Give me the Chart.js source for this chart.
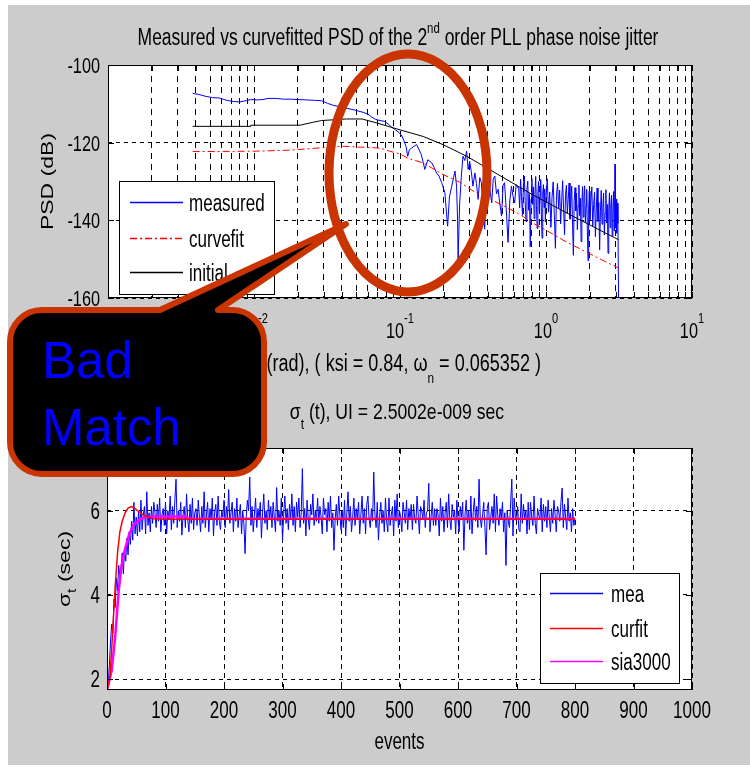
<!DOCTYPE html>
<html>
<head>
<meta charset="utf-8">
<script src="https://cdn.jsdelivr.net/npm/chart.js@4.4.1/dist/chart.umd.min.js"></script>
<style>
  body { margin: 0; background: #fff; }
  #page { position: relative; width: 750px; height: 770px; overflow: hidden; }
  #bg { position: absolute; left: 8px; top: 5px; width: 742px; height: 760px; background: #cccccc; }
  canvas, svg { position: absolute; left: 0; top: 0; }
</style>
</head>
<body>
<div id="page">
  <div id="bg"></div>
  <canvas id="psd" width="750" height="770"></canvas>
  <canvas id="sigma" width="750" height="770"></canvas>
  <svg width="750" height="770" viewBox="0 0 750 770">
    <ellipse cx="408" cy="173" rx="79" ry="119" fill="none" stroke="#c93400" stroke-width="9"/>
    <path d="M 42 310 L 160 310 L 346 224 L 218 310 L 232 310 A 32 32 0 0 1 264 342 L 264 442 A 32 32 0 0 1 232 474 L 42 474 A 32 32 0 0 1 10 442 L 10 342 A 32 32 0 0 1 42 310 Z"
          fill="#000" stroke="#c93400" stroke-width="6" stroke-linejoin="round"/>
    <text x="42" y="378" font-family="Liberation Sans, Arial, sans-serif" font-size="51" fill="#0000ff">Bad</text>
    <text x="42" y="445" font-family="Liberation Sans, Arial, sans-serif" font-size="51" fill="#0000ff">Match</text>
  </svg>
</div>
<script>
const FONT = '"Liberation Sans", Arial, Helvetica, sans-serif';
const SQ = 0.74; // the matlab figure text is squeezed sideways

// ---- top plot: PSD ----
const psdDecades = [0.001, 0.01, 0.1, 1, 10];
const psdExponents = ['-3', '-2', '-1', '0', '1'];
const psdMinor = [2, 3, 4, 5, 6, 7, 8, 9];
const psdYTicks = [-100, -120, -140, -160];

const psdW = [
  0.0038, 0.0042, 0.0047, 0.0052, 0.0058, 0.0065, 0.0072, 0.0080, 0.0088, 0.0095,
  0.0105, 0.0115, 0.0125, 0.0140, 0.0160, 0.0180, 0.0200, 0.0230, 0.0260, 0.0290,
  0.0320, 0.0350, 0.0390, 0.0440, 0.0500, 0.0560, 0.0600, 0.0640, 0.0680, 0.0730,
  0.0780, 0.0830, 0.0870, 0.0920, 0.0970, 0.1020, 0.1060,
  0.110, 0.113, 0.116, 0.120, 0.125, 0.130, 0.135, 0.140, 0.148, 0.155,
  0.165, 0.172, 0.178, 0.185, 0.193, 0.203, 0.207, 0.212, 0.218, 0.225,
  0.238, 0.244, 0.248, 0.250, 0.256, 0.263, 0.270, 0.278, 0.286, 0.293,
  0.300, 0.308, 0.316, 0.326, 0.334, 0.343, 0.352, 0.361, 0.370, 0.380,
  0.390, 0.400, 0.412, 0.425, 0.435, 0.446, 0.458, 0.470, 0.483, 0.496,
  0.508, 0.520, 0.535, 0.550, 0.565, 0.580, 0.595, 0.610, 0.625, 0.640,
  0.65, 0.66, 0.67, 0.68, 0.69, 0.70, 0.71, 0.72, 0.73, 0.74,
  0.75, 0.76, 0.77, 0.78, 0.79, 0.80, 0.81, 0.82, 0.83, 0.84,
  0.85, 0.86, 0.87, 0.88, 0.89, 0.90, 0.91, 0.92, 0.93, 0.94,
  0.95, 0.96, 0.97, 0.98, 0.99, 1.00, 1.02, 1.04, 1.06, 1.08,
  1.10, 1.12, 1.14, 1.16, 1.18, 1.20, 1.22, 1.24, 1.26, 1.28,
  1.30, 1.32, 1.34, 1.36, 1.38, 1.40, 1.42, 1.44, 1.46, 1.48,
  1.50, 1.52, 1.54, 1.56, 1.58, 1.60, 1.62, 1.64, 1.66, 1.68,
  1.70, 1.72, 1.74, 1.76, 1.78, 1.80, 1.82, 1.84, 1.86, 1.88,
  1.90, 1.92, 1.94, 1.96, 1.98, 2.00, 2.03, 2.06, 2.09, 2.12,
  2.15, 2.18, 2.21, 2.24, 2.27, 2.30, 2.33, 2.36, 2.39, 2.42,
  2.45, 2.48, 2.51, 2.54, 2.57, 2.60, 2.63, 2.66, 2.69, 2.72,
  2.75, 2.78, 2.81, 2.84, 2.87, 2.90, 2.93, 2.95, 2.97, 2.99,
  3.02, 3.05, 3.08, 3.11, 3.14
];
const psdMeasured = [
  -107.3, -107.6, -108.1, -108.4, -108.5, -109.1, -109.4, -109.5, -109.2, -108.9,
  -109.0, -108.9, -108.6, -108.6, -108.8, -108.8, -108.9, -109.0, -109.1, -109.2,
  -109.9, -110.4, -110.8, -111.2, -111.7, -112.2, -112.6, -113.4, -114.0, -114.3,
  -114.5, -115.2, -115.9, -116.6, -117.2, -118.0, -119.3,
  -121.0, -123.5, -121.8, -121.4, -120.9, -120.5, -121.8, -123.1, -126.9, -124.4,
  -125.2, -126.5, -127.8, -128.6, -130.3, -132.9, -137.0, -141.5, -134.0, -131.6,
  -127.3, -131.2, -140.0, -150.0, -136.0, -128.6, -123.5, -124.6, -122.2, -126.9,
  -124.8, -127.5, -131.2, -127.8, -130.5, -134.6, -129.0, -130.3, -136.5, -142.3,
  -133.0, -129.5, -131.8, -135.5, -129.4, -128.6, -133.2, -132.0, -135.8, -138.9,
  -131.0, -130.3, -137.6, -145.7, -135.0, -131.2, -133.9, -135.5, -130.8, -131.6,
  -131.6, -136.8, -129.4, -133.9, -138.7, -131.2, -128.6, -135.1, -140.3, -132.0,
  -129.9, -137.4, -133.1, -146.8, -134.5, -129.2, -135.9, -131.4, -139.6, -133.3,
  -128.7, -136.2, -142.1, -132.6, -130.0, -137.5, -133.8, -129.5, -138.9, -144.6,
  -133.0, -130.8, -136.7, -131.9, -140.4, -134.2, -129.3, -137.9, -132.7, -141.8,
  -134.0, -130.1, -138.5, -147.2, -133.6, -130.5, -136.8, -132.2, -140.9, -135.1,
  -129.8, -137.3, -143.7, -133.4, -131.0, -138.2, -134.6, -130.4, -139.7, -135.5,
  -131.2, -141.3, -149.0, -134.8, -131.6, -137.6, -133.0, -142.4, -136.1, -130.9,
  -138.8, -134.3, -145.5, -135.7, -131.3, -139.2, -133.9, -131.1, -140.6, -136.4,
  -132.0, -143.0, -150.4, -136.9, -132.5, -139.8, -134.7, -131.4, -141.5, -136.0,
  -132.8, -144.2, -137.1, -131.7, -140.3, -135.4, -147.6, -137.8, -132.3, -141.0,
  -136.6, -133.0, -143.8, -138.2, -132.1, -140.7, -135.9, -148.5, -137.4, -132.9,
  -141.9, -136.3, -133.5, -144.1, -138.0, -132.6, -142.7, -136.8, -125.5, -142.0,
  -134.5, -143.3, -135.6, -140.8, -160.0
];

const initW = [0.0038, 0.0094, 0.0095, 0.0207, 0.025, 0.029, 0.043, 0.055, 0.069, 0.1, 0.144, 0.197, 0.286, 0.41, 0.81, 1.52, 3.14];
const psdInitial = [-115.8, -115.8, -115.5, -115.5, -114.8, -114.3, -113.9, -113.9, -114.9, -116.7, -118.4, -120.5, -123.5, -126.9, -133.4, -138.9, -145.0];

const fitW = [0.0038, 0.01, 0.018, 0.025, 0.04, 0.073, 0.085, 0.1, 0.113, 0.144, 0.197, 0.26, 0.33, 0.43, 0.63, 0.84, 1.03, 1.35, 1.7, 2.3, 3.14];
const psdFit = [-122.3, -122.2, -121.9, -121.5, -120.9, -121.4, -122.2, -122.9, -124.0, -125.2, -128.2, -130.3, -132.9, -134.8, -138.0, -141.0, -142.8, -145.4, -147.3, -149.8, -152.3];

// ---- bottom plot: sigma_t vs events ----
const eventTicks = [0, 100, 200, 300, 400, 500, 600, 700, 800, 900, 1000];
const sigmaYTicks = [2, 4, 6];
const meaStep = 2; // one value every 2 events
const meaSigma = [
  2.75, 1.8, 2.3, 2.9, 3.3, 3.1, 3.9, 3.7, 4.4, 4.1, 4.7, 4.45, 4.6, 5.0, 4.5, 5.1, 4.8, 5.35, 4.95, 5.5,
  5.2, 5.75, 5.3, 6.2, 5.45, 5.85, 5.4, 6.0, 5.5, 6.25, 5.55, 5.9, 6.1, 5.45, 6.45, 5.65, 5.95, 5.5, 6.1, 5.7, 6.2,
  5.95, 5.6, 6.15, 5.75, 6.3, 5.5, 5.9, 6.05, 5.65, 6.2, 5.45, 6.0, 5.8, 6.35, 5.55, 6.1, 5.7, 6.25, 6.75, 5.6,
  6.0, 5.75, 6.2, 5.42, 5.9, 6.1, 5.6, 6.4, 5.8, 5.5, 6.15, 5.7, 6.3, 5.55, 5.95, 6.05, 5.65, 6.25, 5.85, 5.5,
  6.1, 5.7, 6.45, 5.6, 5.9, 6.2, 5.5, 6.05, 5.8, 6.3, 5.4, 5.95, 6.15, 5.65, 6.35, 5.75, 5.55, 6.0, 5.85, 6.25,
  5.6, 6.1, 5.8, 6.5, 5.7, 5.95, 6.2, 5.5, 6.05, 5.75, 6.3, 5.6, 5.9, 6.15, 5.45, 6.0, 5.7, 4.98, 5.85, 6.25,
  6.0, 6.8, 5.65, 6.1, 5.5, 5.9, 6.3, 5.6, 6.05, 5.8, 6.2, 5.35, 5.95, 6.4, 5.7, 6.0, 5.55, 6.25, 5.8, 6.1,
  5.6, 6.2, 5.85, 5.5, 6.55, 5.75, 6.0, 5.65, 6.3, 5.3, 5.9, 6.35, 5.7, 6.05, 5.55, 6.15, 5.8, 6.4, 5.65, 6.1,
  5.5, 6.2, 5.85, 6.3, 5.6, 5.95, 7.0, 5.7, 6.05, 5.4, 6.25, 5.8, 5.55, 6.15, 5.9, 6.4, 5.65, 6.0, 5.75, 6.3,
  5.7, 6.1, 5.85, 5.45, 6.3, 5.9, 6.05, 5.5, 6.2, 5.75, 6.35, 5.6, 5.95, 5.06, 5.8, 6.15, 5.65, 6.35, 5.9, 5.55,
  6.0, 5.6, 6.25, 5.4, 5.95, 6.45, 5.75, 6.1, 5.5, 5.85, 6.3, 5.65, 6.05, 5.8, 6.2, 5.45, 5.9, 6.35, 5.7, 6.05,
  5.45, 6.15, 6.35, 5.8, 5.6, 6.05, 5.75, 6.92, 5.9, 5.6, 6.2, 5.3, 5.85, 6.2, 5.7, 6.0, 5.5, 6.3, 5.75, 5.5,
  6.3, 5.65, 5.9, 6.1, 5.4, 6.25, 5.75, 6.4, 5.6, 6.0, 5.85, 5.5, 6.2, 5.95, 5.7, 6.25, 5.55, 6.05, 5.8, 6.15,
  5.55, 6.15, 5.8, 5.7, 6.35, 5.9, 5.45, 6.1, 6.0, 5.8, 6.25, 5.6, 5.95, 6.0, 6.65, 5.5, 5.85, 6.2, 5.65, 6.05,
  5.65, 6.05, 5.9, 5.4, 6.3, 5.75, 6.1, 5.5, 5.95, 6.2, 5.6, 6.4, 5.8, 5.55, 6.15, 5.85, 6.0, 5.45, 6.25, 5.8,
  5.5, 6.1, 5.85, 6.2, 5.06, 5.9, 6.25, 5.7, 6.0, 5.55, 6.35, 5.45, 5.95, 6.3, 5.75, 6.1, 5.6, 6.75, 5.85, 5.6,
  5.9, 6.2, 5.6, 4.95, 6.05, 6.2, 5.55, 5.85, 6.1, 5.7, 6.4, 5.5, 6.35, 5.9, 5.65, 6.05, 5.8, 6.2, 5.5, 5.95,
  4.7, 6.0, 5.75, 5.6, 6.2, 6.75, 5.4, 6.3, 5.85, 5.75, 6.1, 5.55, 5.5, 6.4, 5.7, 6.15, 5.8, 6.0, 5.45, 6.2,
  5.55, 6.2, 5.85, 5.65, 6.35, 5.7, 5.45, 6.05, 5.9, 5.8, 6.3, 5.5, 6.15, 5.75, 6.1, 5.6, 6.25, 5.85, 5.5, 6.05,
  5.7, 6.25, 5.9, 5.5, 6.1, 6.0, 5.75, 6.2, 6.54, 5.6, 6.15, 5.85, 5.55, 6.3, 5.75, 5.95, 5.5, 6.05, 5.65, 5.8
];
const curfitEvents = [0, 5, 10, 14, 18, 22, 26, 31, 36, 42, 48, 55, 62, 70, 80, 100, 800];
const curfitSigma = [1.75, 2.0, 3.2, 4.2, 5.0, 5.5, 5.75, 5.95, 6.06, 6.1, 6.05, 5.97, 5.9, 5.85, 5.81, 5.8, 5.8];
const siaEvents = [0, 8, 14, 20, 25, 31, 38, 45, 55, 62, 75, 135, 140, 800];
const siaSigma = [1.74, 2.2, 3.0, 4.1, 4.7, 5.1, 5.45, 5.66, 5.78, 5.83, 5.86, 5.86, 5.81, 5.81];

// ---- drawing helpers ----
function drawRich(ctx, parts, x, y, align, sx) {
  if (sx === undefined) sx = SQ;
  let w = 0;
  parts.forEach(p => {
    ctx.font = p.size + 'px ' + FONT;
    p.w = ctx.measureText(p.t).width * sx;
    w += p.w;
  });
  let cx = align === 'center' ? x - w / 2 : align === 'right' ? x - w : x;
  ctx.textAlign = 'left';
  ctx.textBaseline = 'alphabetic';
  parts.forEach(p => {
    ctx.save();
    ctx.font = p.size + 'px ' + FONT;
    ctx.translate(cx, y + (p.dy || 0));
    ctx.scale(sx, 1);
    ctx.fillText(p.t, 0, 0);
    ctx.restore();
    cx += p.w;
  });
}

function drawRotated(ctx, parts, x, y) {
  ctx.save();
  ctx.translate(x, y);
  ctx.rotate(-Math.PI / 2);
  ctx.scale(1, SQ);
  drawRich(ctx, parts, 0, 0, 'center', 1);
  ctx.restore();
}

function frameAndTicks(chart, len) {
  const { ctx, chartArea: a, scales: { x, y } } = chart;
  ctx.save();
  ctx.strokeStyle = '#000';
  ctx.lineWidth = 1;
  ctx.beginPath();
  x.ticks.forEach(t => {
    const px = Math.round(x.getPixelForValue(t.value)) + 0.5;
    ctx.moveTo(px, a.bottom); ctx.lineTo(px, a.bottom - len);
    ctx.moveTo(px, a.top); ctx.lineTo(px, a.top + len);
  });
  y.ticks.forEach(t => {
    const py = Math.round(y.getPixelForValue(t.value)) + 0.5;
    ctx.moveTo(a.left, py); ctx.lineTo(a.left + len, py);
    ctx.moveTo(a.right, py); ctx.lineTo(a.right - len, py);
  });
  ctx.stroke();
  ctx.strokeRect(a.left + 0.5, a.top + 0.5, a.right - a.left - 1, a.bottom - a.top - 1);
  ctx.restore();
}

function drawLegend(chart, box) {
  const ctx = chart.ctx;
  ctx.save();
  ctx.fillStyle = '#fff';
  ctx.fillRect(box.x, box.y, box.w, box.h);
  ctx.strokeStyle = '#000';
  ctx.lineWidth = 1;
  ctx.strokeRect(box.x + 0.5, box.y + 0.5, box.w, box.h);
  chart.data.datasets.forEach((ds, i) => {
    const ly = box.rows[i] + 0.5;
    ctx.strokeStyle = ds.borderColor;
    ctx.lineWidth = 1.5;
    ctx.setLineDash(ds.borderDash || []);
    ctx.beginPath();
    ctx.moveTo(box.lineX0, ly);
    ctx.lineTo(box.lineX1, ly);
    ctx.stroke();
    ctx.setLineDash([]);
    ctx.fillStyle = '#000';
    drawRich(ctx, [{ t: ds.label, size: 23 }], box.textX, box.rows[i] + 9, 'left');
  });
  ctx.restore();
}

const whiteArea = {
  id: 'whiteArea',
  beforeDraw(chart) {
    const { ctx, chartArea: a } = chart;
    ctx.save();
    ctx.fillStyle = '#fff';
    ctx.fillRect(a.left, a.top, a.right - a.left, a.bottom - a.top);
    ctx.restore();
  }
};

function gridOpts(dash) {
  return {
    grid: { color: '#000', lineWidth: 1, drawTicks: false },
    border: { display: false, dash: dash },
    ticks: { display: false }
  };
}

const psdTickValues = [];
psdDecades.forEach((d, i) => {
  psdTickValues.push(d);
  if (i < psdDecades.length - 1) psdMinor.forEach(m => psdTickValues.push(d * m));
});

// ---- top chart ----
new Chart(document.getElementById('psd'), {
  type: 'line',
  data: {
    datasets: [
      { label: 'measured', data: psdW.map((w, i) => ({ x: w, y: psdMeasured[i] })),
        borderColor: '#0000ff', borderWidth: 1, order: 2 },
      { label: 'curvefit', data: fitW.map((w, i) => ({ x: w, y: psdFit[i] })),
        borderColor: '#ff0000', borderWidth: 1, borderDash: [7, 3, 2, 3], order: 1 },
      { label: 'initial', data: initW.map((w, i) => ({ x: w, y: psdInitial[i] })),
        borderColor: '#000000', borderWidth: 1, order: 0 }
    ]
  },
  options: {
    responsive: false,
    animation: false,
    events: [],
    devicePixelRatio: 1,
    layout: { padding: { left: 108, right: 58, top: 65, bottom: 472 } },
    elements: { point: { radius: 0 }, line: { tension: 0 } },
    plugins: { legend: { display: false }, tooltip: { enabled: false } },
    scales: {
      x: Object.assign({
        type: 'logarithmic', min: 0.001, max: 10,
        afterBuildTicks: s => { s.ticks = psdTickValues.map(v => ({ value: v })); },
        afterFit: s => { s.height = 0; }
      }, gridOpts([6, 5])),
      y: Object.assign({
        type: 'linear', min: -160, max: -100,
        afterBuildTicks: s => { s.ticks = psdYTicks.map(v => ({ value: v })); },
        afterFit: s => { s.width = 0; }
      }, gridOpts([4, 4]))
    }
  },
  plugins: [whiteArea, {
    id: 'psdDecor',
    afterDatasetsDraw(chart) {
      frameAndTicks(chart, 6);
      drawLegend(chart, { x: 119, y: 181, w: 155, h: 113, rows: [202, 238, 272], lineX0: 130, lineX1: 183, textX: 189 });
    },
    afterDraw(chart) {
      const { ctx, chartArea: a, scales: { x, y } } = chart;
      ctx.save();
      ctx.fillStyle = '#000';
      drawRich(ctx, [
        { t: 'Measured vs curvefitted PSD of the 2', size: 23 },
        { t: 'nd', size: 15, dy: -12 },
        { t: ' order PLL phase noise jitter', size: 23 }
      ], 398, 45, 'center', 0.76);
      psdYTicks.forEach(v => drawRich(ctx, [{ t: String(v), size: 22 }], 100, y.getPixelForValue(v) + 8, 'right'));
      psdDecades.forEach((d, i) => drawRich(ctx, [
        { t: '10', size: 22 },
        { t: psdExponents[i], size: 15, dy: -15 }
      ], x.getPixelForValue(d), 338, 'center'));
      drawRich(ctx, [
        { t: '\u03c9 (rad), ( ksi = 0.84, \u03c9', size: 23 },
        { t: 'n', size: 15, dy: 12 },
        { t: ' = 0.065352 )', size: 23 }
      ], 541, 371, 'right', 0.785);
      drawRotated(ctx, [{ t: 'PSD (dB)', size: 23 }], 53, (a.top + a.bottom) / 2);
      ctx.restore();
    }
  }]
});

// ---- bottom chart ----
new Chart(document.getElementById('sigma'), {
  type: 'line',
  data: {
    datasets: [
      { label: 'mea', data: meaSigma.map((v, i) => ({ x: i * meaStep, y: v })),
        borderColor: '#0000ff', borderWidth: 1, order: 2 },
      { label: 'curfit', data: curfitEvents.map((e, i) => ({ x: e, y: curfitSigma[i] })),
        borderColor: '#ff0000', borderWidth: 1.5, order: 0 },
      { label: 'sia3000', data: siaEvents.map((e, i) => ({ x: e, y: siaSigma[i] })),
        borderColor: '#ff00ff', borderWidth: 2.5, order: 1 }
    ]
  },
  options: {
    responsive: false,
    animation: false,
    events: [],
    devicePixelRatio: 1,
    layout: { padding: { left: 107, right: 58, top: 448, bottom: 80 } },
    elements: { point: { radius: 0 }, line: { tension: 0 } },
    plugins: { legend: { display: false }, tooltip: { enabled: false } },
    scales: {
      x: Object.assign({
        type: 'linear', min: 0, max: 1000,
        afterBuildTicks: s => { s.ticks = eventTicks.map(v => ({ value: v })); },
        afterFit: s => { s.height = 0; }
      }, gridOpts([5, 4])),
      y: Object.assign({
        type: 'linear', min: 1.74, max: 7.49,
        afterBuildTicks: s => { s.ticks = sigmaYTicks.map(v => ({ value: v })); },
        afterFit: s => { s.width = 0; }
      }, gridOpts([4, 4]))
    }
  },
  plugins: [whiteArea, {
    id: 'sigmaDecor',
    afterDatasetsDraw(chart) {
      frameAndTicks(chart, 6);
      drawLegend(chart, { x: 540, y: 573, w: 139, h: 110, rows: [593, 628, 661], lineX0: 550, lineX1: 603, textX: 611 });
    },
    afterDraw(chart) {
      const { ctx, chartArea: a, scales: { x, y } } = chart;
      ctx.save();
      ctx.fillStyle = '#000';
      drawRich(ctx, [
        { t: '\u03c3', size: 22 },
        { t: 't', size: 15, dy: 10 },
        { t: ' (t), UI = 2.5002e-009 sec', size: 22 }
      ], 397, 419, 'center', 0.8);
      sigmaYTicks.forEach(v => drawRich(ctx, [{ t: String(v), size: 23 }], 100, y.getPixelForValue(v) + 8, 'right'));
      eventTicks.forEach(v => drawRich(ctx, [{ t: String(v), size: 23 }], x.getPixelForValue(v), 718, 'center'));
      drawRich(ctx, [{ t: 'events', size: 23 }], (a.left + a.right) / 2, 749, 'center');
      drawRotated(ctx, [
        { t: '\u03c3', size: 23 },
        { t: 't', size: 16, dy: 8 },
        { t: ' (sec)', size: 23 }
      ], 70, (a.top + a.bottom) / 2);
      ctx.restore();
    }
  }]
});
</script>
</body>
</html>
